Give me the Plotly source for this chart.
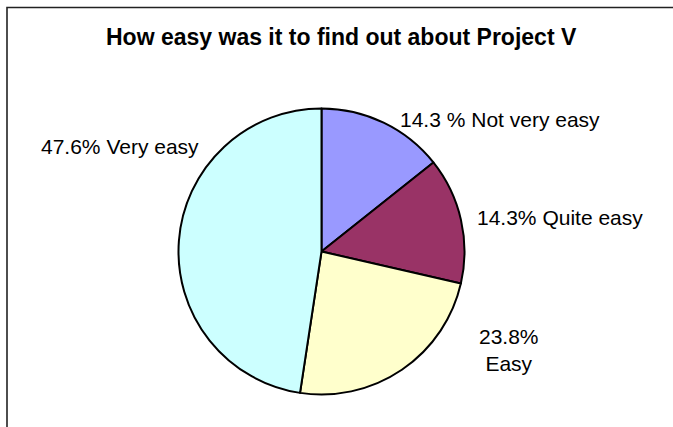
import plotly.graph_objects as go

categories = ["Not very easy", "Quite easy", "Easy", "Very easy"]
values = [14.3, 14.3, 23.8, 47.6]
label_texts = ["14.3 % Not very easy", "14.3% Quite easy", "23.8%<br>Easy", "47.6% Very easy"]
colors = ["#9999FF", "#993366", "#FFFFCC", "#CCFFFF"]
title_text = "How easy was it to find out about Project V"

W, H = 673, 427
# label centre positions in pixels
label_pos = [(499.5, 120), (559.5, 217.5), (508.5, 350), (120, 146.5)]

def px(x):
    return x / W

def py(y):
    return 1 - y / H

fig = go.Figure(go.Pie(
    labels=categories,
    values=values,
    sort=False,
    direction="clockwise",
    rotation=0,
    textinfo="none",
    hoverinfo="label+percent",
    marker=dict(colors=colors, line=dict(color="#000000", width=2)),
    domain=dict(x=[px(178), px(465)], y=[py(394.5), py(108.5)]),
    showlegend=False,
))

annotations = [
    dict(text=t, x=px(p[0]), y=py(p[1]), xref="paper", yref="paper",
         xanchor="center", yanchor="middle", showarrow=False,
         font=dict(family="Liberation Sans, Arial, sans-serif", size=21, color="#000000"))
    for t, p in zip(label_texts, label_pos)
]
annotations.append(dict(
    text="<b>" + title_text + "</b>", x=px(341), y=py(37), xref="paper", yref="paper",
    xanchor="center", yanchor="middle", showarrow=False,
    font=dict(family="Liberation Sans, Arial, sans-serif", size=23, color="#000000")))

fig.update_layout(
    width=W, height=H,
    margin=dict(l=0, r=0, t=0, b=0),
    paper_bgcolor="#FFFFFF",
    plot_bgcolor="#FFFFFF",
    annotations=annotations,
    shapes=[dict(type="rect", xref="paper", yref="paper",
                 x0=px(7), y0=-0.2, x1=1.2, y1=py(7.5),
                 line=dict(color="#222222", width=1.6))],
)

fig.write_html(
    "out.html",
    config={"displayModeBar": False},
    post_script="document.body.style.margin='0';document.body.style.overflow='hidden';",
)
